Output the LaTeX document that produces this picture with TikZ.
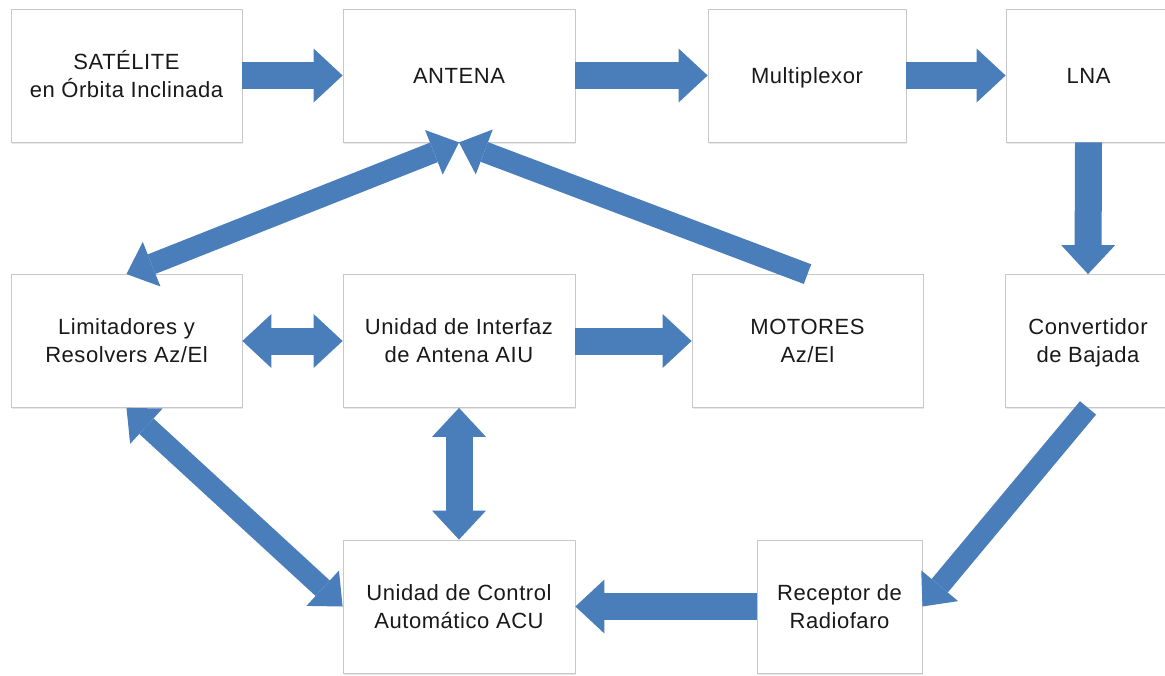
\documentclass[tikz,border=0pt]{standalone}
\usepackage{fontspec}
\setmainfont{Liberation Sans}[LetterSpace=2.5]
\usetikzlibrary{arrows.meta,shadows}
\definecolor{arrowblue}{RGB}{74,126,187}
\definecolor{boxline}{RGB}{200,200,200}
\definecolor{txt}{RGB}{25,25,25}
% one text line whose box is exactly as tall as a capital letter
\newcommand\capline[1]{\smash{#1}\vphantom{H}}
\tikzset{
  box/.style={draw=boxline, line width=0.8pt, fill=white,
    minimum width=#1, minimum height=133pt, inner sep=0pt,
    align=center, text=txt, font=\fontsize{22}{28}\selectfont,
    drop shadow={shadow xshift=1.2pt, shadow yshift=-1.8pt, opacity=0.18}},
  box/.default=231pt,
  bighead/.tip={Triangle[length=29pt, width=54pt, line width=0pt]},
  diaghead/.tip={Triangle[length=27pt, width=48pt, line width=0pt]},
  flow/.style={draw=arrowblue, line width=27pt, -bighead},
  flowboth/.style={draw=arrowblue, line width=27pt, bighead-bighead},
  diag/.style={draw=arrowblue, line width=21pt, -diaghead},
  diagboth/.style={draw=arrowblue, line width=21pt, diaghead-diaghead},
}
\begin{document}
\begin{tikzpicture}[x=1pt, y=-1pt]
\useasboundingbox (0,0) rectangle (1165,675);
\clip (0,0) rectangle (1165,675);
\fill[white] (0,0) rectangle (1165,675);

% blocks
\node[box] (sat) at (126.5,75.5) {\capline{SATÉLITE}\\\capline{en Órbita Inclinada}};
\node[box=232pt] (ant) at (459,75.5) {\capline{ANTENA}};
\node[box=198pt] (mux) at (807,75.5) {\capline{Multiplexor}};
\node[box=165pt] (lna) at (1088.5,75.5) {\capline{LNA}};
\node[box] (lim) at (126.5,341) {\capline{Limitadores y}\\\capline{Resolvers Az/El}};
\node[box=232pt] (aiu) at (459,341) {\capline{Unidad de Interfaz}\\\capline{de Antena AIU}};
\node[box] (mot) at (807.5,341) {\capline{MOTORES}\\\capline{Az/El}};
\node[box=166pt] (conv) at (1088,341) {\capline{Convertidor}\\\capline{de Bajada}};
\node[box=232pt] (acu) at (459,606.5) {\capline{Unidad de Control}\\\capline{Automático ACU}};
\node[box=165pt] (rec) at (839.5,606.5) {\capline{Receptor de}\\\capline{Radiofaro}};

% signal path
\draw[flow] (sat.east) -- (ant.west);
\draw[flow] (ant.east) -- (mux.west);
\draw[flow] (mux.east) -- (lna.west);
\draw[flow] (lna.south) -- (conv.north);
\draw[diag] (conv.south) -- (rec.east);
\draw[flow] (rec.west) -- (acu.east);

% control loop
\draw[flowboth] (lim.east) -- (aiu.west);
\draw[flow] (aiu.east) -- (mot.west);
\draw[flowboth] (aiu.south) -- (acu.north);
\draw[diagboth] (acu.west) -- (lim.south);
\draw[diag] (mot.north) -- (ant.south);
\draw[diagboth] (lim.north) -- (ant.south);
\end{tikzpicture}
\end{document}
